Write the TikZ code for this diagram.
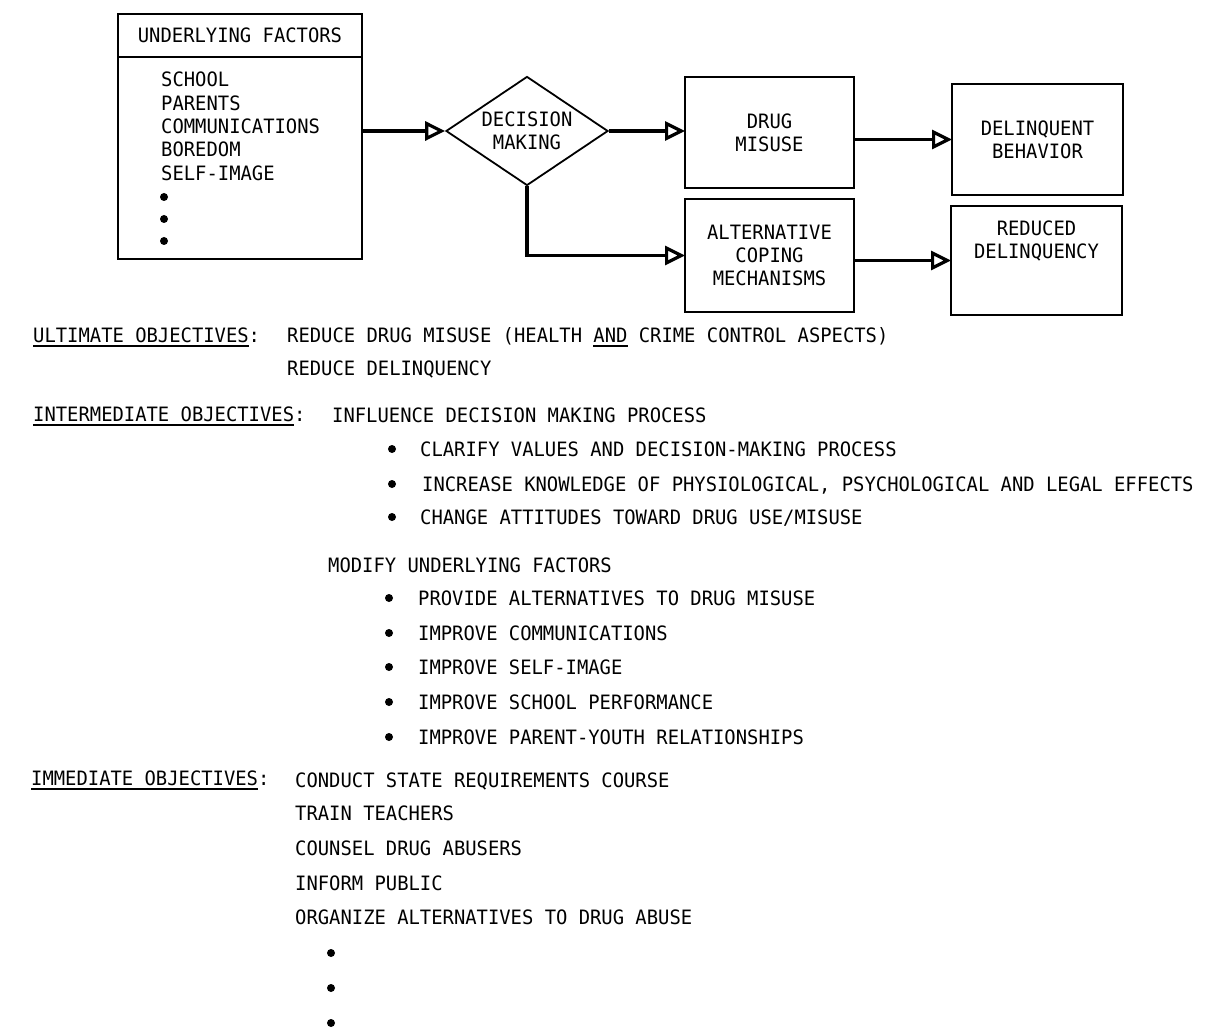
\documentclass[tikz,border=0pt]{standalone}
\usepackage{fontspec}
\setmainfont{DejaVu Sans Mono}[Scale=1.05, FakeStretch=0.952]
\usetikzlibrary{arrows.meta, positioning, shapes.geometric}
\newcommand{\ulabel}[1]{\setbox0\hbox{#1}\rlap{\rule[-5pt]{\wd0}{1.6pt}}\box0\relax}

\begin{document}
\begin{tikzpicture}[
   x = 1pt, y = -1pt,
   every node/.style = {font=\fontsize{18.85}{23.3}\selectfont},
   box/.style = {draw, line width=1.8pt, outer sep=0pt, inner sep=0pt, align=center},
   choice/.style = {diamond, draw, line width=1.8pt, aspect=1.5, inner sep=0pt, align=center,
                    minimum width=162pt, minimum height=109pt},
   conn/.style = {line width=3.2pt, -{Triangle[open, length=20pt, width=19pt]}},
   txt/.style = {anchor=base west, inner sep=0pt},
   dot/.style = {circle, fill, inner sep=0pt, minimum size=8pt}]
   \useasboundingbox (0,0) rectangle (1226,1032);

   % flow chart
   \node[box, minimum width=244pt, minimum height=43pt] (ufhead) at (240,35.5) {UNDERLYING FACTORS};
   \node[box, minimum width=244pt, minimum height=202pt, below=0pt of ufhead] (ufbody) {};
   \node[txt] (school) at (161,87) {SCHOOL};
   \node[txt] (parents) at (161,110.3) {PARENTS};
   \node[txt] (comm) at (161,133.6) {COMMUNICATIONS};
   \node[txt] (boredom) at (161,156.9) {BOREDOM};
   \node[txt] (selfimg) at (161,180.2) {SELF-IMAGE};
   \node[dot] (ufdot1) at (164,197) {};
   \node[dot] (ufdot2) at (164,219) {};
   \node[dot] (ufdot3) at (164,241) {};

   \node[choice] (decision) at (527,131) {DECISION\\MAKING};
   \node[box, minimum width=169pt, minimum height=111pt] (drug) at (769.5,132.5) {DRUG\\MISUSE};
   \node[box, minimum width=171pt, minimum height=111pt] (delinq) at (1037.5,139.5) {DELINQUENT\\BEHAVIOR};
   \node[box, minimum width=169pt, minimum height=113pt, below=11pt of drug] (alt) {ALTERNATIVE\\COPING\\MECHANISMS};
   \node[box, minimum width=171pt, minimum height=109pt] (reduced) at (1036.5,260.5) {};
   \node[align=center, inner sep=0pt] (reducedtxt) at (1036.5,241) {REDUCED\\DELINQUENCY};

   \draw[conn] (ufbody.east |- decision.west) -- (decision.west);
   \draw[conn] (decision.east) -- (decision.east -| drug.west);
   \draw[conn] (drug.east |- delinq.west) -- (delinq.west);
   \draw[conn] (decision.south) |- (alt.west);
   \draw[conn] (alt.east |- reduced.west) -- (reduced.west);

   % objectives
   \node[txt] (ult) at (33,342) {\ulabel{ULTIMATE OBJECTIVES}:};
   \node[txt] (ult1) at (287,342) {REDUCE DRUG MISUSE (HEALTH \ulabel{AND} CRIME CONTROL ASPECTS)};
   \node[txt] (ult2) at (287,375) {REDUCE DELINQUENCY};

   \node[txt] (inter) at (33,421) {\ulabel{INTERMEDIATE OBJECTIVES}:};
   \node[txt] (infl) at (332,422) {INFLUENCE DECISION MAKING PROCESS};
   \node[dot] (ib1) at (392,449) {};
   \node[txt] (infl1) at (420,456) {CLARIFY VALUES AND DECISION-MAKING PROCESS};
   \node[dot] (ib2) at (392,484) {};
   \node[txt] (infl2) at (422,491) {INCREASE KNOWLEDGE OF PHYSIOLOGICAL, PSYCHOLOGICAL AND LEGAL EFFECTS};
   \node[dot] (ib3) at (392,517) {};
   \node[txt] (infl3) at (420,524) {CHANGE ATTITUDES TOWARD DRUG USE/MISUSE};

   \node[txt] (modify) at (328,572) {MODIFY UNDERLYING FACTORS};
   \node[dot] (mb1) at (389,598) {};
   \node[txt] (mod1) at (418,605) {PROVIDE ALTERNATIVES TO DRUG MISUSE};
   \node[dot] (mb2) at (389,633) {};
   \node[txt] (mod2) at (418,640) {IMPROVE COMMUNICATIONS};
   \node[dot] (mb3) at (389,667) {};
   \node[txt] (mod3) at (418,674) {IMPROVE SELF-IMAGE};
   \node[dot] (mb4) at (389,702) {};
   \node[txt] (mod4) at (418,709) {IMPROVE SCHOOL PERFORMANCE};
   \node[dot] (mb5) at (389,737) {};
   \node[txt] (mod5) at (418,744) {IMPROVE PARENT-YOUTH RELATIONSHIPS};

   \node[txt] (immed) at (31,785) {\ulabel{IMMEDIATE OBJECTIVES}:};
   \node[txt] (imm1) at (295,787) {CONDUCT STATE REQUIREMENTS COURSE};
   \node[txt] (imm2) at (295,820) {TRAIN TEACHERS};
   \node[txt] (imm3) at (295,855) {COUNSEL DRUG ABUSERS};
   \node[txt] (imm4) at (295,890) {INFORM PUBLIC};
   \node[txt] (imm5) at (295,924) {ORGANIZE ALTERNATIVES TO DRUG ABUSE};
   \node[dot] (immdot1) at (331,953) {};
   \node[dot] (immdot2) at (331,988) {};
   \node[dot] (immdot3) at (331,1023) {};
\end{tikzpicture}
\end{document}
